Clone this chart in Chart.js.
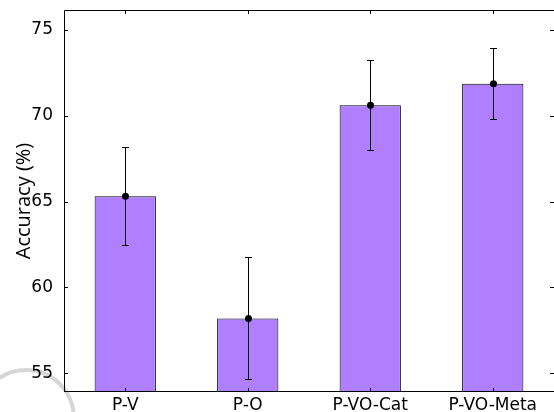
<!DOCTYPE html>
<html>
<head>
<meta charset="utf-8">
<script src="https://cdn.jsdelivr.net/npm/chart.js@4/dist/chart.umd.min.js"></script>
<style>
  html, body { margin: 0; padding: 0; background: #fff; }
  #wrap { width: 554px; height: 412px; }
</style>
</head>
<body>
<div id="wrap"><canvas id="c" width="554" height="412"></canvas></div>
<script>
const categories = ['P-V', 'P-O', 'P-VO-Cat', 'P-VO-Meta'];
const accuracy = [65.3, 58.2, 70.6, 71.85];
const errLow = [62.45, 54.65, 68.0, 69.8];
const errHigh = [68.15, 61.8, 73.25, 73.95];
const yTicks = [55, 60, 65, 70, 75];

const FONT = 'DejaVu Sans';

const decor = {
  id: 'decor',
  beforeDraw(chart) {
    // faint watermark arc in the lower left corner
    const ctx = chart.ctx;
    ctx.save();
    ctx.strokeStyle = '#d6d6d6';
    ctx.lineWidth = 4;
    ctx.beginPath();
    ctx.arc(26, 418, 48, -135 * Math.PI / 180, 10 * Math.PI / 180);
    ctx.stroke();
    ctx.restore();
  },
  afterDatasetsDraw(chart) {
    const ctx = chart.ctx;
    const x = chart.scales.x;
    const y = chart.scales.y;
    const a = chart.chartArea;
    ctx.save();

    // error bars + mean dots
    ctx.strokeStyle = '#000';
    ctx.lineWidth = 1;
    accuracy.forEach((v, i) => {
      const px = Math.round(x.getPixelForValue(i)) + 0.5;
      const yl = Math.round(y.getPixelForValue(errLow[i])) + 0.5;
      const yh = Math.round(y.getPixelForValue(errHigh[i])) + 0.5;
      ctx.beginPath();
      ctx.moveTo(px, yl); ctx.lineTo(px, yh);
      ctx.moveTo(px - 3.5, yl); ctx.lineTo(px + 3.5, yl);
      ctx.moveTo(px - 3.5, yh); ctx.lineTo(px + 3.5, yh);
      ctx.stroke();
      ctx.fillStyle = '#000';
      ctx.beginPath();
      ctx.arc(px, y.getPixelForValue(v), 3.5, 0, Math.PI * 2);
      ctx.fill();
    });

    // frame and inward ticks
    ctx.beginPath();
    ctx.moveTo(a.left + 0.5, a.bottom); ctx.lineTo(a.left + 0.5, a.top + 0.5);
    ctx.lineTo(a.right + 0.5, a.top + 0.5); ctx.lineTo(a.right + 0.5, a.bottom - 0.5);
    ctx.lineTo(a.left, a.bottom - 0.5);
    yTicks.forEach(t => {
      const py = Math.round(y.getPixelForValue(t)) + 0.5;
      ctx.moveTo(a.left, py); ctx.lineTo(a.left + 4, py);
      ctx.moveTo(a.right, py); ctx.lineTo(a.right - 4, py);
    });
    categories.forEach((c, i) => {
      const px = Math.round(x.getPixelForValue(i)) + 0.5;
      ctx.moveTo(px, a.bottom); ctx.lineTo(px, a.bottom - 4);
      ctx.moveTo(px, a.top); ctx.lineTo(px, a.top + 4);
    });
    ctx.stroke();
    ctx.restore();
  }
};

new Chart(document.getElementById('c'), {
  type: 'bar',
  data: {
    labels: categories,
    datasets: [{
      data: accuracy,
      backgroundColor: '#b07fff',
      borderColor: '#000',
      borderWidth: 1,
      barPercentage: 0.5,
      categoryPercentage: 1.0
    }]
  },
  options: {
    responsive: false,
    animation: false,
    layout: { padding: { top: 10, right: 0, left: 0, bottom: 0 } },
    plugins: { legend: { display: false }, tooltip: { enabled: false } },
    scales: {
      x: {
        grid: { display: false },
        border: { display: false },
        ticks: { color: '#000', font: { family: FONT, size: 17 }, padding: -5, maxRotation: 0 },
        afterFit(s) { s.height = 20; }
      },
      y: {
        min: 53.92,
        max: 76.14,
        grid: { display: false },
        border: { display: false },
        afterBuildTicks(s) { s.ticks = yTicks.map(v => ({ value: v })); },
        ticks: { color: '#000', font: { family: FONT, size: 17 }, padding: 3 },
        title: {
          display: true,
          text: 'Accuracy (%)',
          color: '#000',
          font: { family: 'Open Sans', size: 20 },
          padding: { top: 12, bottom: 0 }
        },
        afterFit(s) {
          s.width = 64;
          s.paddingTop = 0;
          s.paddingBottom = 0;
        }
      }
    }
  },
  plugins: [decor]
});
</script>
</body>
</html>
